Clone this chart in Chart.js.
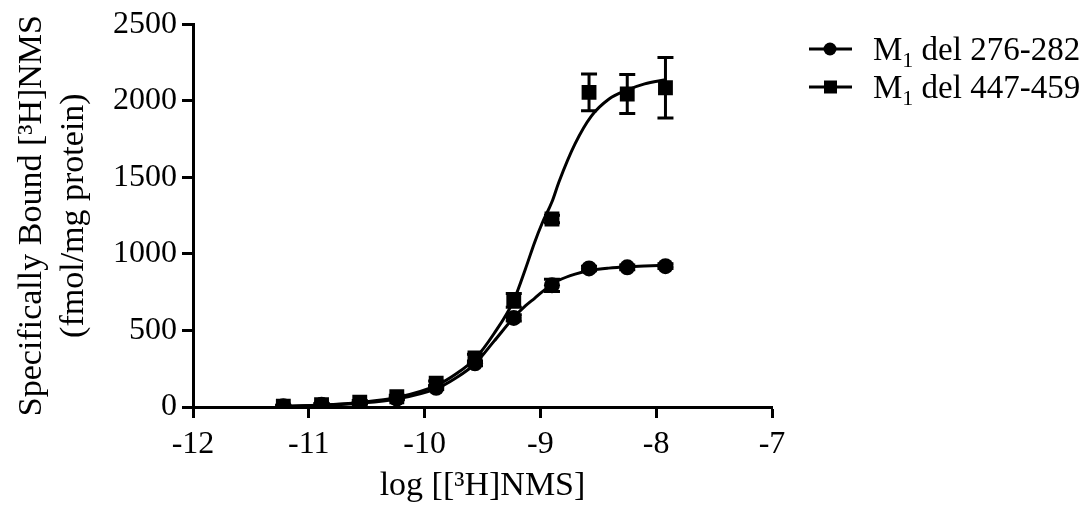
<!DOCTYPE html>
<html>
<head>
<meta charset="utf-8">
<script src="https://cdn.jsdelivr.net/npm/chart.js@4/dist/chart.umd.min.js"></script>
<style>
    html, body { margin: 0; padding: 0; background: #fff; }
    #wrap { width: 1085px; height: 509px; }
</style>
</head>
<body>
<div id="wrap"><canvas id="bindingChart" width="1085" height="509"></canvas></div>
<script>
// log [3H]NMS concentrations used in the saturation experiment
const logConc = [-11.22, -10.89, -10.56, -10.24, -9.9, -9.565, -9.23, -8.9, -8.58, -8.25, -7.92]

// M1 del 276-282 (circles): mean and SEM, fmol/mg protein
const del276Mean = [5, 15, 25, 55, 125, 285, 582, 795, 905, 912, 920]
const del276Sem = [4, 4, 5, 6, 10, 15, 20, 40, 15, 15, 15]

// M1 del 447-459 (squares)
const del447Mean = [5, 15, 32, 67, 155, 320, 697, 1228, 2055, 2044, 2085]
const del447Sem = [6, 8, 10, 10, 15, 25, 45, 25, 120, 128, 198]

// fitted saturation curves, sampled along the x range
const fitLogConc = [-11.22, -10.89, -10.56, -10.24, -9.9, -9.73, -9.565, -9.4, -9.23, -9.13, -9.05, -8.985, -8.9, -8.84, -8.7, -8.56, -8.41, -8.25, -8.1, -7.92]
const del276Fit = [5, 12, 25, 52, 120, 190, 282, 430, 585, 660, 710, 752, 800, 828, 868, 893, 907, 916, 921, 925]
const del447Fit = [4, 13, 30, 62, 140, 215, 315, 480, 697, 900, 1075, 1200, 1340, 1470, 1720, 1900, 2010, 2070, 2110, 2138]

const xTicks = [-12, -11, -10, -9, -8, -7]
const yTicks = [0, 500, 1000, 1500, 2000, 2500]

const legendItems = [
    { name: 'del 276-282', marker: 'circle' },
    { name: 'del 447-459', marker: 'rect' },
]

const SERIF = '"Liberation Serif", "Times New Roman", serif'

function toPoints(xs, ys) {
    return xs.map((x, i) => ({ x: x, y: ys[i] }))
}

// vertical SEM bars with caps
const errorBarPlugin = {
    id: 'errorBars',
    afterDatasetsDraw(chart) {
        const ctx = chart.ctx
        const yScale = chart.scales.y
        chart.data.datasets.forEach((ds, di) => {
            if (!ds.errors) return
            const meta = chart.getDatasetMeta(di)
            ctx.save()
            ctx.strokeStyle = '#000'
            ctx.lineWidth = 3
            meta.data.forEach((pt, i) => {
                const v = ds.data[i].y
                const e = ds.errors[i]
                const top = yScale.getPixelForValue(v + e)
                const bottom = yScale.getPixelForValue(v - e)
                ctx.beginPath()
                ctx.moveTo(pt.x, top)
                ctx.lineTo(pt.x, bottom)
                ctx.moveTo(pt.x - 8, top)
                ctx.lineTo(pt.x + 8, top)
                ctx.moveTo(pt.x - 8, bottom)
                ctx.lineTo(pt.x + 8, bottom)
                ctx.stroke()
            })
            ctx.restore()
        })
    },
}

// legend on the right: line + marker, then "M" with subscript 1
const sideLegendPlugin = {
    id: 'sideLegend',
    afterDraw(chart) {
        const ctx = chart.ctx
        ctx.save()
        legendItems.forEach((item, i) => {
            const base = 60 + i * 38
            const cy = base - 11
            ctx.strokeStyle = '#000'
            ctx.fillStyle = '#000'
            ctx.lineWidth = 3
            ctx.beginPath()
            ctx.moveTo(809, cy)
            ctx.lineTo(852, cy)
            ctx.stroke()
            ctx.beginPath()
            if (item.marker === 'circle') {
                ctx.arc(830, cy, 6.5, 0, Math.PI * 2)
            } else {
                ctx.rect(824, cy - 6.5, 13, 13)
            }
            ctx.fill()

            ctx.textAlign = 'left'
            ctx.textBaseline = 'alphabetic'
            ctx.font = '33px ' + SERIF
            ctx.fillText('M', 873, base)
            let x = 873 + ctx.measureText('M').width
            ctx.font = '22px ' + SERIF
            ctx.fillText('1', x, base + 7)
            x += ctx.measureText('1').width
            ctx.font = '33px ' + SERIF
            ctx.fillText(' ' + item.name, x, base)
        })
        ctx.restore()
    },
}

const axisBase = {
    border: { display: true, color: '#000', width: 3 },
    grid: {
        display: true,
        drawOnChartArea: false,
        drawTicks: true,
        tickLength: 11,
        tickWidth: 3,
        tickColor: '#000',
    },
}

const ctx = document.getElementById('bindingChart').getContext('2d')
const bindingChart = new Chart(ctx, {
    type: 'scatter',
    data: {
        datasets: [
            {
                label: 'M1 del 276-282',
                data: toPoints(logConc, del276Mean),
                errors: del276Sem,
                pointStyle: 'circle',
                pointRadius: 8,
                backgroundColor: '#000',
                borderColor: '#000',
                borderWidth: 0,
                showLine: false,
                order: 0,
            },
            {
                label: 'M1 del 447-459',
                data: toPoints(logConc, del447Mean),
                errors: del447Sem,
                pointStyle: 'rect',
                pointRadius: 10.5,
                backgroundColor: '#000',
                borderColor: '#000',
                borderWidth: 0,
                showLine: false,
                order: 1,
            },
            {
                label: 'fit 276-282',
                data: toPoints(fitLogConc, del276Fit),
                showLine: true,
                pointRadius: 0,
                borderColor: '#000',
                borderWidth: 3,
                cubicInterpolationMode: 'monotone',
                order: 2,
            },
            {
                label: 'fit 447-459',
                data: toPoints(fitLogConc, del447Fit),
                showLine: true,
                pointRadius: 0,
                borderColor: '#000',
                borderWidth: 3,
                cubicInterpolationMode: 'monotone',
                order: 3,
            },
        ],
    },
    options: {
        responsive: false,
        animation: false,
        layout: { padding: { top: 24, right: 313, left: 0, bottom: 0 } },
        plugins: {
            legend: { display: false },
            tooltip: { enabled: false },
        },
        scales: {
            x: {
                ...axisBase,
                type: 'linear',
                min: -12,
                max: -7,
                afterBuildTicks(scale) {
                    scale.ticks = xTicks.map((v) => ({ value: v }))
                },
                afterFit(scale) {
                    scale.height = 102
                },
                ticks: {
                    color: '#000',
                    padding: 7,
                    font: { family: SERIF, size: 32 },
                    callback: (v) => String(v),
                },
                title: {
                    display: true,
                    text: 'log [[³H]NMS]',
                    color: '#000',
                    padding: { top: 0, bottom: 3 },
                    font: { family: SERIF, size: 34 },
                },
            },
            y: {
                ...axisBase,
                type: 'linear',
                min: 0,
                max: 2500,
                afterBuildTicks(scale) {
                    scale.ticks = yTicks.map((v) => ({ value: v }))
                },
                afterFit(scale) {
                    scale.width = 193
                },
                ticks: {
                    color: '#000',
                    padding: 5,
                    font: { family: SERIF, size: 32 },
                    callback: (v) => String(v),
                },
                title: {
                    display: true,
                    text: ['Specifically Bound [³H]NMS', '(fmol/mg protein)'],
                    color: '#000',
                    padding: { top: 11, bottom: 0 },
                    font: { family: SERIF, size: 34, lineHeight: 1.24 },
                },
            },
        },
    },
    plugins: [errorBarPlugin, sideLegendPlugin],
})
</script>
</body>
</html>
